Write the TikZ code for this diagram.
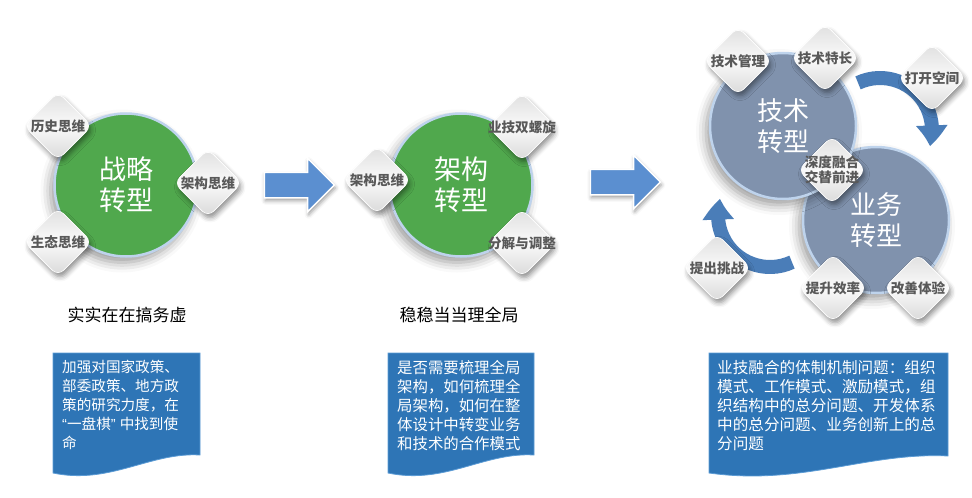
\documentclass[tikz,border=0pt]{standalone}
\usepackage{fontspec}
\setmainfont{Noto Sans CJK SC}
\newfontfamily\quotefont{Liberation Sans}
\usepackage{tikz}
\usetikzlibrary{shapes.geometric, shapes.arrows, arrows.meta, bending, shadows.blur}

\definecolor{stgreen}{HTML}{50A84D}
\definecolor{slate}{HTML}{8092AD}
\definecolor{ringblue}{HTML}{BED3EC}
\definecolor{textgray}{HTML}{595959}
\definecolor{arrowblue}{HTML}{5B8FD0}
\definecolor{arcblue}{HTML}{4A7DB8}
\definecolor{docblue}{HTML}{2E75B6}
\definecolor{docedge}{HTML}{5B9BD5}

\begin{document}
\begin{tikzpicture}[x=1pt, y=-1pt,
    turn/.style={circle, minimum size=143pt, inner sep=0pt, draw=ringblue, line width=2.5pt,
      text=white, align=center, font=\fontsize{27}{31}\selectfont,
      blur shadow={shadow xshift=-4pt, shadow yshift=-6pt, shadow blur radius=10pt, shadow opacity=40}},
    diam/.style={diamond, aspect=1, minimum width=68pt, minimum height=68pt, inner sep=0pt,
      rounded corners=8pt, top color=gray!25, bottom color=gray!30, middle color=white!96!gray,
      draw=white, line width=0.6pt,
      blur shadow={shadow xshift=2pt, shadow yshift=-4pt, shadow blur radius=5pt, shadow opacity=45}},
    dtext/.style={text=textgray, font=\bfseries\fontsize{13.6}{15}\selectfont, align=center, inner sep=0pt},
    blockarrow/.style={single arrow, minimum height=70pt, inner xsep=0pt, inner ysep=12pt,
      single arrow head extend=14pt, fill=arrowblue, draw=white, line width=1.5pt,
      blur shadow={shadow xshift=1pt, shadow yshift=-3pt, shadow blur radius=4pt, shadow opacity=40}},
    cyc/.style={draw=arcblue, line width=14pt, -{Triangle[width=30pt, length=21pt, bend]}},
    caption/.style={font=\fontsize{17}{20}\selectfont, inner sep=0pt},
    doc/.style={fill=docblue, draw=docedge, line width=0.8pt},
    boxtext/.style={anchor=north west, inner sep=0pt, align=left, text=white}]
  \useasboundingbox (0,0) rectangle (972,498);

  % strategy
  \node[turn, fill=stgreen] (zl) at (126,185) {战略\\转型};
  \node[diam, label={[dtext]center:历史思维}] (ls) at (58,126) {};
  \node[diam, label={[dtext]center:架构思维}] (jgsw1) at (208,183) {};
  \node[diam, label={[dtext]center:生态思维}] (st) at (58,242) {};
  \node[caption] (cap1) at (127,315) {实实在在搞务虚};

  \node[blockarrow] (arr1) at (293,185) {};

  % architecture
  \node[turn, fill=stgreen] (jg) at (461,185) {架构\\转型};
  \node[diam, label={[dtext]center:业技双螺旋}] (lx) at (522,127) {};
  \node[diam, label={[dtext]center:架构思维}] (jgsw2) at (377,180) {};
  \node[diam, label={[dtext]center:分解与调整}] (fj) at (522,243) {};
  \node[caption] (cap2) at (459,315) {稳稳当当理全局};

  \node[blockarrow] (arr2) at (619,182) {};

  % business and technology
  \node[turn, fill=slate, minimum size=146pt, font=\fontsize{26}{31}\selectfont] (yw) at (876,220) {业务\\转型};
  \node[turn, fill=slate, minimum size=146pt, font=\fontsize{26}{31}\selectfont] (js) at (783,126) {技术\\转型};
  \coordinate (cyc1) at (880,130);
  \coordinate (cyc2) at (770,215);
  \draw[cyc] ([shift={(245:52)}]cyc1) arc[start angle=245, end angle=378, radius=52];
  \draw[cyc] ([shift={(65:52)}]cyc2) arc[start angle=65, end angle=198, radius=52];
  \node[diam, label={[dtext]center:技术管理}] (jsgl) at (738,61) {};
  \node[diam, label={[dtext]center:技术特长}] (jstc) at (825,58) {};
  \node[diam, label={[dtext]center:打开空间}] (dk) at (932,78) {};
  \node[diam, label={[dtext]center:深度融合\\交替前进}] (sd) at (832,170) {};
  \node[diam, label={[dtext]center:提出挑战}] (tc) at (717,268) {};
  \node[diam, label={[dtext]center:提升效率}] (ts) at (833,288) {};
  \node[diam, label={[dtext]center:改善体验}] (gs) at (918,288) {};

  % notes
  \draw[doc] (53,353) -- (200,353) -- (200,455) .. controls (150,452) and (110,485) .. (53,473) -- cycle;
  \draw[doc] (388,353) -- (534,353) -- (534,455) .. controls (484,452) and (445,485) .. (388,473) -- cycle;
  \draw[doc] (709,353) -- (948,353) -- (948,456) .. controls (867,452) and (802,486) .. (709,473) -- cycle;
  \node[boxtext, font=\fontsize{14.6}{19}\selectfont] (n1) at (62,360)
    {加强对国家政策、\\部委政策、地方政\\策的研究力度，在\\{\quotefont“}一盘棋{\quotefont” }中找到使\\命};
  \node[boxtext, font=\fontsize{15.4}{19}\selectfont] (n2) at (397,360)
    {是否需要梳理全局\\架构，如何梳理全\\局架构，如何在整\\体设计中转变业务\\和技术的合作模式};
  \node[boxtext, font=\fontsize{15.6}{19}\selectfont] (n3) at (717,360)
    {业技融合的体制机制问题：组织\\模式、工作模式、激励模式，组\\织结构中的总分问题、开发体系\\中的总分问题、业务创新上的总\\分问题};
\end{tikzpicture}
\end{document}
